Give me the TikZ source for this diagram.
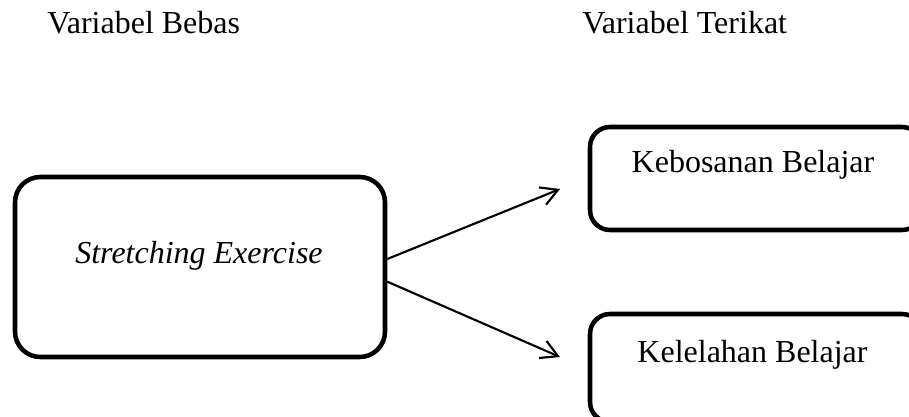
\documentclass[tikz,border=0pt]{standalone}
\usepackage{fontspec}
\setmainfont{Liberation Serif}
\usetikzlibrary{arrows.meta,calc}
\begin{document}
\begin{tikzpicture}[x=0.75pt,y=-0.75pt,
  box/.style={draw, line width=3.4pt, rounded corners=#1, inner sep=0pt},
  box/.default=15pt,
  lbl/.style={inner sep=0pt, font=\fontsize{24pt}{28pt}\selectfont},
  conn/.style={line width=1.6pt, -{Straight Barb[length=12.5pt,width=14pt,line width=1.6pt]}}]
\useasboundingbox (0,0) rectangle (909,417);
% headings
\node[lbl, anchor=base west] (hb) at (47,34) {Variabel Bebas};
\node[lbl, anchor=base west] (ht) at (582,34) {Variabel Terikat};
% boxes
\node[box=19pt, minimum width=370*0.75pt, minimum height=180*0.75pt] (sx) at (200,267) {};
\node[box=15pt, minimum width=332*0.75pt, minimum height=103*0.75pt] (kb) at (756,178.5) {};
\node[box=15pt, minimum width=332*0.75pt, minimum height=108*0.75pt] (kl) at (756,368) {};
% box texts
\node[lbl, anchor=base] (sxt) at (199,263) {\itshape Stretching Exercise};
\node[lbl, anchor=base] (kbt) at (753,172) {Kebosanan Belajar};
\node[lbl, anchor=base] (klt) at (752.5,362) {Kelelahan Belajar};
% connectors
\coordinate (e1) at (560,189);
\coordinate (e2) at (560,357);
\draw[conn] ([yshift=6pt]sx.east) -- (e1);
\draw[conn] ([yshift=-11pt]sx.east) -- (e2);
\end{tikzpicture}
\end{document}
